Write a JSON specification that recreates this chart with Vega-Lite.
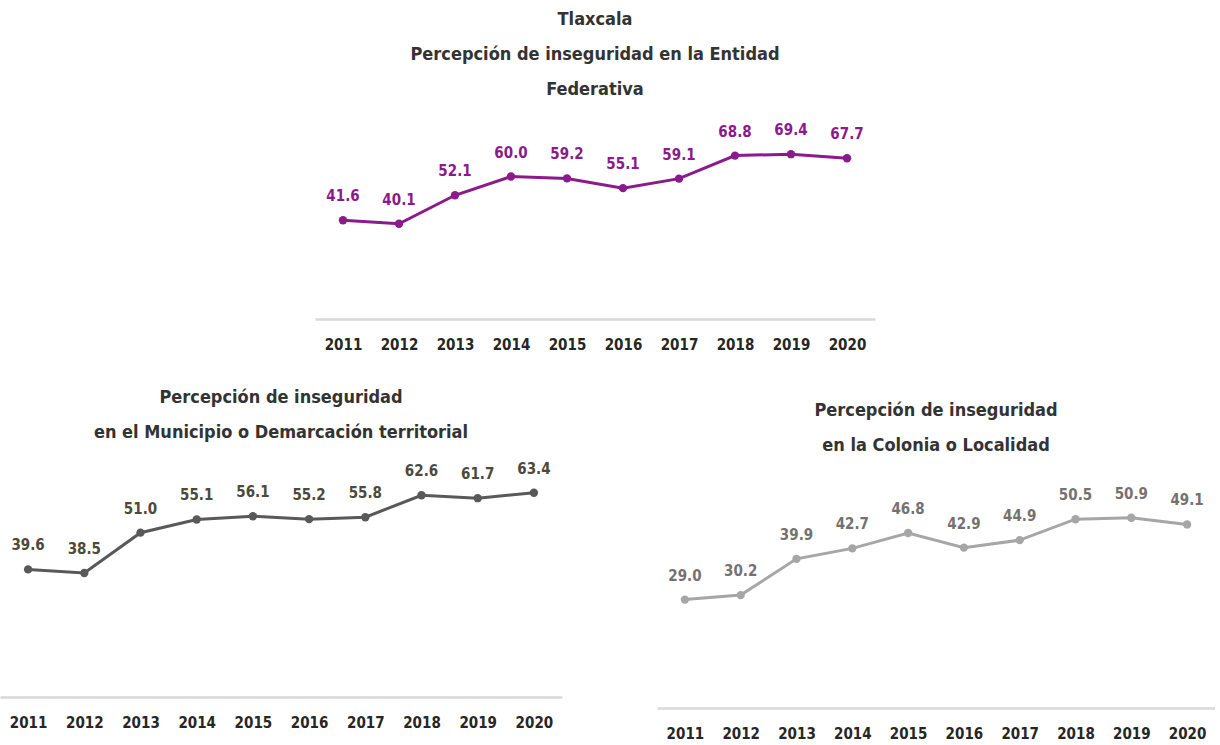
{
  "$schema": "https://vega.github.io/schema/vega-lite/v6.json",
  "padding": {"top": 11, "left": 0, "right": 0, "bottom": 0},
  "background": "white",
  "config": {
    "view": {"stroke": null},
    "axisX": {
      "title": null,
      "labelAngle": 0,
      "ticks": false,
      "domainColor": "#d9d9d9",
      "domainWidth": 2.5,
      "labelFont": "DejaVu Sans Condensed",
      "labelFontWeight": "bold",
      "labelFontSize": 15,
      "labelColor": "#262626",
      "labelPadding": 18,
      "grid": false
    },
    "title": {
      "font": "DejaVu Sans Condensed",
      "fontWeight": "bold",
      "fontSize": 18,
      "color": "#333333",
      "anchor": "middle",
      "lineHeight": 35
    }
  },
  "spacing": 36,
  "vconcat": [
    {
      "spacing": 20,
      "hconcat": [
        {
          "width": 295,
          "height": 190,
          "data": {"values": [{"v": 0}]},
          "mark": {"type": "point", "opacity": 0},
          "encoding": {}
        },
        {
          "width": 560,
          "height": 190,
          "title": {"text": ["Tlaxcala", "Percepción de inseguridad en la Entidad", "Federativa"], "offset": 24},
          "data": {"values": [
            {"year": "2011", "value": 41.6},
            {"year": "2012", "value": 40.1},
            {"year": "2013", "value": 52.1},
            {"year": "2014", "value": 60.0},
            {"year": "2015", "value": 59.2},
            {"year": "2016", "value": 55.1},
            {"year": "2017", "value": 59.1},
            {"year": "2018", "value": 68.8},
            {"year": "2019", "value": 69.4},
            {"year": "2020", "value": 67.7}
          ]},
          "encoding": {
            "x": {"field": "year", "type": "nominal", "scale": {"type": "point", "padding": 0.5}},
            "y": {"field": "value", "type": "quantitative", "scale": {"domain": [0, 80], "nice": false}, "axis": null}
          },
          "layer": [
            {"mark": {"type": "line", "color": "#8b1a8b", "strokeWidth": 3}},
            {"mark": {"type": "point", "filled": true, "opacity": 1, "color": "#8b1a8b", "size": 70}},
            {"mark": {"type": "text", "dy": -24, "font": "DejaVu Sans Condensed", "fontWeight": "bold", "fontSize": 15, "color": "#8b1a8b"},
             "encoding": {"text": {"field": "value", "type": "quantitative", "format": ".1f"}}}
          ]
        }
      ]
    },
    {
      "spacing": 95,
      "hconcat": [
        {
          "width": 562,
          "height": 232,
          "title": {"text": ["Percepción de inseguridad", "en el Municipio o Demarcación territorial"], "offset": 20},
          "data": {"values": [
            {"year": "2011", "value": 39.6},
            {"year": "2012", "value": 38.5},
            {"year": "2013", "value": 51.0},
            {"year": "2014", "value": 55.1},
            {"year": "2015", "value": 56.1},
            {"year": "2016", "value": 55.2},
            {"year": "2017", "value": 55.8},
            {"year": "2018", "value": 62.6},
            {"year": "2019", "value": 61.7},
            {"year": "2020", "value": 63.4}
          ]},
          "encoding": {
            "x": {"field": "year", "type": "nominal", "scale": {"type": "point", "padding": 0.5}},
            "y": {"field": "value", "type": "quantitative", "scale": {"domain": [0, 72], "nice": false}, "axis": null}
          },
          "layer": [
            {"mark": {"type": "line", "color": "#595959", "strokeWidth": 3}},
            {"mark": {"type": "point", "filled": true, "opacity": 1, "color": "#595959", "size": 70}},
            {"mark": {"type": "text", "dy": -24, "font": "DejaVu Sans Condensed", "fontWeight": "bold", "fontSize": 15, "color": "#4d4a3a"},
             "encoding": {"text": {"field": "value", "type": "quantitative", "format": ".1f"}}}
          ]
        },
        {
          "width": 558,
          "height": 243,
          "title": {"text": ["Percepción de inseguridad", "en la Colonia o Localidad"], "offset": 10},
          "data": {"values": [
            {"year": "2011", "value": 29.0},
            {"year": "2012", "value": 30.2},
            {"year": "2013", "value": 39.9},
            {"year": "2014", "value": 42.7},
            {"year": "2015", "value": 46.8},
            {"year": "2016", "value": 42.9},
            {"year": "2017", "value": 44.9},
            {"year": "2018", "value": 50.5},
            {"year": "2019", "value": 50.9},
            {"year": "2020", "value": 49.1}
          ]},
          "encoding": {
            "x": {"field": "year", "type": "nominal", "scale": {"type": "point", "padding": 0.5}},
            "y": {"field": "value", "type": "quantitative", "scale": {"domain": [0, 65], "nice": false}, "axis": null}
          },
          "layer": [
            {"mark": {"type": "line", "color": "#a6a6a6", "strokeWidth": 3}},
            {"mark": {"type": "point", "filled": true, "opacity": 1, "color": "#a6a6a6", "size": 70}},
            {"mark": {"type": "text", "dy": -24, "font": "DejaVu Sans Condensed", "fontWeight": "bold", "fontSize": 15, "color": "#767171"},
             "encoding": {"text": {"field": "value", "type": "quantitative", "format": ".1f"}}}
          ]
        }
      ]
    }
  ]
}
